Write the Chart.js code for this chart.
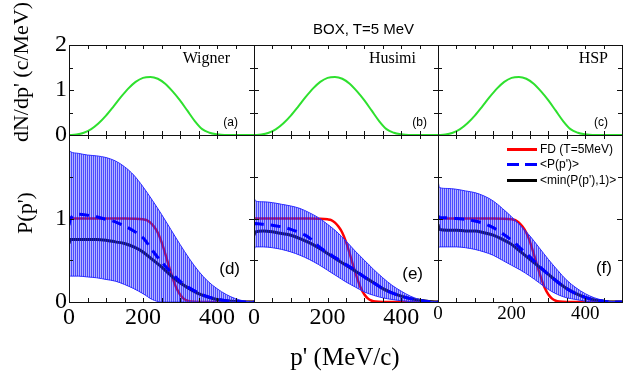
<!DOCTYPE html>
<html lang="en">
<head>
<meta charset="UTF-8">
<title>BOX, T=5 MeV</title>
<script src="https://cdn.jsdelivr.net/npm/chart.js"></script>
<style>
  body { margin: 0; background: #fff; }
  #wrap { position: relative; width: 624px; height: 372px; overflow: hidden; background: #fff; }
  #wrap canvas { position: absolute; }
  .t { position: absolute; white-space: nowrap; line-height: 1; color: #000; z-index: 5; }
  .serif { font-family: "Liberation Serif", "Times New Roman", serif; }
  .sans { font-family: "Liberation Sans", Arial, sans-serif; }
  .rot { transform: translate(-50%, -50%) rotate(-90deg); }
  .mid { transform: translate(-50%, -50%); }
  .ln { position: absolute; height: 3px; width: 30px; z-index: 5; }
</style>
</head>
<body>
<div id="wrap">
  <canvas id="a"></canvas><canvas id="b"></canvas><canvas id="c"></canvas>
  <canvas id="d"></canvas><canvas id="e"></canvas><canvas id="f"></canvas>

  <div class="t sans" style="left:313px; top:21px; font-size:15px;">BOX, T=5 MeV</div>
  <div class="t serif rot" style="left:21px; top:72px; font-size:22px;">dN/dp' (c/MeV)</div>
  <div class="t serif rot" style="left:25px; top:213px; font-size:22px;">P(p')</div>
  <div class="t serif mid" style="left:345px; top:356px; font-size:25px;">p' (MeV/c)</div>

  <div class="t serif" style="right:394px; top:50px; font-size:16px;">Wigner</div>
  <div class="t serif" style="right:208px; top:50px; font-size:16px;">Husimi</div>
  <div class="t serif" style="right:16px; top:50px; font-size:16px;">HSP</div>
  <div class="t sans" style="right:386px; top:116px; font-size:12px;">(a)</div>
  <div class="t sans" style="right:197px; top:116px; font-size:12px;">(b)</div>
  <div class="t sans" style="right:16px; top:116px; font-size:12px;">(c)</div>
  <div class="t sans" style="right:384px; top:260px; font-size:17px;">(d)</div>
  <div class="t sans" style="right:201px; top:265px; font-size:17px;">(e)</div>
  <div class="t sans" style="right:12px; top:259px; font-size:17px;">(f)</div>

  <div class="ln" style="left:507px; top:148px; background:#ff0000;"></div>
  <div class="t sans" style="left:540px; top:143px; font-size:12px;">FD (T=5MeV)</div>
  <div class="ln" style="left:507px; top:163px; background:repeating-linear-gradient(90deg,#0000ff 0 12px,transparent 12px 18px);"></div>
  <div class="t sans" style="left:540px; top:158px; font-size:12px;">&lt;P(p')&gt;</div>
  <div class="ln" style="left:507px; top:179px; background:#000;"></div>
  <div class="t sans" style="left:540px; top:174px; font-size:12px;">&lt;min(P(p'),1)&gt;</div>
</div>

<script>
// momentum grid for the P(p') panels (MeV/c)
const P_GRID = [0, 4, 25, 50, 75, 100, 125, 150, 175, 200, 225, 250, 275, 300, 325, 350, 375, 400, 425, 450, 475, 500];

// Wigner (d)
const WIGNER_UPPER = [1.82, 1.80, 1.78, 1.76, 1.75, 1.73, 1.69, 1.62, 1.52, 1.38, 1.22, 1.05, 0.87, 0.69, 0.52, 0.37, 0.25, 0.16, 0.09, 0.04, 0.01, 0];
const WIGNER_LOWER = [0.30, 0.31, 0.31, 0.30, 0.29, 0.27, 0.25, 0.21, 0.16, 0.10, 0.03, 0, 0, 0, 0, 0, 0, 0, 0, 0, 0, 0];
const WIGNER_MEAN  = [0.92, 1.00, 1.05, 1.04, 1.02, 0.99, 0.96, 0.91, 0.85, 0.77, 0.62, 0.48, 0.36, 0.25, 0.17, 0.11, 0.065, 0.035, 0.015, 0.005, 0, 0];
const WIGNER_MIN   = [0.70, 0.75, 0.75, 0.75, 0.75, 0.74, 0.72, 0.70, 0.66, 0.60, 0.51, 0.42, 0.32, 0.23, 0.16, 0.10, 0.06, 0.03, 0.015, 0.005, 0, 0];

// Husimi (e)
const HUSIMI_UPPER = [1.26, 1.21, 1.20, 1.19, 1.17, 1.15, 1.12, 1.07, 1.01, 0.93, 0.84, 0.73, 0.61, 0.50, 0.39, 0.29, 0.20, 0.13, 0.07, 0.03, 0.01, 0];
const HUSIMI_LOWER = [0.62, 0.66, 0.66, 0.65, 0.63, 0.60, 0.56, 0.51, 0.45, 0.38, 0.31, 0.24, 0.18, 0.12, 0.08, 0.05, 0.03, 0.015, 0.005, 0, 0, 0];
const HUSIMI_MEAN  = [0.93, 0.94, 0.93, 0.92, 0.90, 0.87, 0.83, 0.77, 0.67, 0.59, 0.52, 0.45, 0.38, 0.30, 0.23, 0.16, 0.11, 0.07, 0.04, 0.02, 0.005, 0];
const HUSIMI_MIN   = [0.80, 0.84, 0.85, 0.84, 0.82, 0.80, 0.76, 0.71, 0.65, 0.58, 0.51, 0.44, 0.37, 0.30, 0.23, 0.16, 0.11, 0.07, 0.04, 0.02, 0.005, 0];

// HSP (f)
const HSP_UPPER = [1.46, 1.37, 1.36, 1.35, 1.33, 1.31, 1.27, 1.21, 1.12, 1.02, 0.91, 0.79, 0.65, 0.51, 0.38, 0.26, 0.17, 0.10, 0.05, 0.02, 0.005, 0];
const HSP_LOWER = [0.64, 0.66, 0.66, 0.66, 0.65, 0.63, 0.60, 0.56, 0.50, 0.44, 0.38, 0.31, 0.23, 0.15, 0.09, 0.05, 0.03, 0.01, 0, 0, 0, 0];
const HSP_MEAN  = [1.03, 1.01, 1.01, 1.00, 0.99, 0.97, 0.94, 0.89, 0.82, 0.74, 0.64, 0.54, 0.43, 0.33, 0.24, 0.16, 0.10, 0.055, 0.025, 0.01, 0, 0];
const HSP_MIN   = [0.93, 0.87, 0.86, 0.86, 0.85, 0.85, 0.83, 0.80, 0.75, 0.69, 0.60, 0.51, 0.42, 0.33, 0.24, 0.16, 0.10, 0.055, 0.025, 0.01, 0, 0];

// Fermi-Dirac reference, same in every panel
const FD_P   = [0, 50, 100, 150, 180, 200, 210, 220, 230, 240, 250, 260, 270, 280, 290, 300, 310, 320, 330, 350, 400, 450, 500];
const FD_VAL = [1, 1, 1, 1, 0.998, 0.99, 0.98, 0.95, 0.90, 0.83, 0.72, 0.58, 0.43, 0.29, 0.17, 0.09, 0.04, 0.015, 0.005, 0, 0, 0, 0];

// dN/dp' (top row, same in each panel)
const DN_P   = [0, 20, 40, 60, 80, 100, 120, 140, 160, 180, 200, 220, 240, 260, 280, 300, 320, 340, 360, 380, 400, 420, 440, 460, 480, 500];
const DN_VAL = [0, 0.01, 0.05, 0.13, 0.26, 0.43, 0.63, 0.84, 1.03, 1.18, 1.27, 1.29, 1.25, 1.14, 0.97, 0.77, 0.54, 0.31, 0.13, 0.05, 0.015, 0, 0, 0, 0, 0];

const X_LABELS = [0, 200, 400];
const Y_LABELS_TOP = [0, 1, 2];
const Y_LABELS_BOTTOM = [0, 1];

// panel frame geometry
const M = 40;
const COLS = [[69, 185], [254, 184], [438, 184]];
const ROWS = [[45, 90], [135, 167]];

const pts = (xs, ys) => xs.map((x, i) => ({ x: x, y: ys[i] }));

function stripes() {
  const c = document.createElement('canvas');
  c.width = 2; c.height = 1;
  const g = c.getContext('2d');
  g.fillStyle = 'rgba(25,25,255,0.78)'; g.fillRect(0, 0, 1, 1);
  g.fillStyle = 'rgba(70,70,255,0.40)'; g.fillRect(1, 0, 1, 1);
  return g.createPattern(c, 'repeat');
}
const STRIPES = stripes();

// inward ticks on all four sides plus the frame
const frameTicks = {
  id: 'frameTicks',
  afterDatasetsDraw(chart) {
    const { ctx, chartArea: a, scales: { x, y } } = chart;
    ctx.save();
    ctx.strokeStyle = '#111';
    ctx.lineWidth = 1;
    ctx.beginPath();
    x.ticks.forEach(t => {
      const px = Math.round(x.getPixelForValue(t.value)) + 0.5;
      ctx.moveTo(px, a.bottom); ctx.lineTo(px, a.bottom - 4);
      ctx.moveTo(px, a.top); ctx.lineTo(px, a.top + 4);
    });
    y.ticks.forEach(t => {
      const py = Math.round(y.getPixelForValue(t.value)) + 0.5;
      const len = t.value % 1 === 0 ? 5 : 4;
      ctx.moveTo(a.left, py); ctx.lineTo(a.left + len, py);
      ctx.moveTo(a.right, py); ctx.lineTo(a.right - len, py);
    });
    ctx.stroke();
    ctx.strokeRect(a.left + 0.5, a.top + 0.5, a.right - a.left, a.bottom - a.top);
    ctx.restore();
  }
};

function makePanel(id, col, row, datasets, yLabels, xLabels, xFont) {
  const [l, w] = COLS[col];
  const [t, h] = ROWS[row];
  const cv = document.getElementById(id);
  cv.width = w + 2 * M; cv.height = h + 2 * M;
  cv.style.left = (l - M) + 'px'; cv.style.top = (t - M) + 'px';
  return new Chart(cv, {
    type: 'line',
    data: { datasets: datasets },
    options: {
      responsive: false,
      animation: false,
      events: [],
      layout: { padding: { top: M, right: M, left: 0, bottom: 0 } },
      elements: { point: { radius: 0 }, line: { cubicInterpolationMode: 'monotone' } },
      plugins: { legend: { display: false }, tooltip: { enabled: false } },
      scales: {
        x: {
          type: 'linear', min: 0, max: 500,
          grid: { display: false, drawTicks: false },
          border: { display: false },
          ticks: {
            stepSize: 50, autoSkip: false, maxRotation: 0, padding: 1, color: '#000',
            font: { family: 'Liberation Serif', size: xFont },
            callback: v => xLabels.includes(v) ? String(v) : ''
          },
          afterFit: s => { s.height = M; }
        },
        y: {
          min: 0, max: 2,
          grid: { display: false, drawTicks: false },
          border: { display: false },
          ticks: {
            stepSize: 0.5, autoSkip: false, padding: 2, color: '#000',
            font: { family: 'Liberation Serif', size: 24 },
            callback: v => yLabels.includes(v) ? String(v) : ''
          },
          afterFit: s => { s.width = M; }
        }
      }
    },
    plugins: [frameTicks]
  });
}

function topSets() {
  return [{ data: pts(DN_P, DN_VAL), borderColor: '#2ee02e', borderWidth: 2, fill: false }];
}

function bottomSets(upper, lower, mean, minv) {
  return [
    { data: pts(P_GRID, mean), borderColor: '#0000ff', borderWidth: 3, borderDash: [10, 7], fill: false, order: 0 },
    { data: pts(P_GRID, upper), borderColor: '#2b2bff', borderWidth: 1, backgroundColor: STRIPES, fill: '+1', order: 1 },
    { data: pts(P_GRID, lower), borderColor: '#2b2bff', borderWidth: 1, fill: false, order: 1 },
    { data: pts(P_GRID, minv), borderColor: '#000000', borderWidth: 3, fill: false, order: 2 },
    { data: pts(FD_P, FD_VAL), borderColor: '#ff0000', borderWidth: 2.5, fill: false, order: 3 }
  ];
}

makePanel('a', 0, 0, topSets(), Y_LABELS_TOP, [], 24);
makePanel('b', 1, 0, topSets(), [], [], 24);
makePanel('c', 2, 0, topSets(), [], [], 19);
makePanel('d', 0, 1, bottomSets(WIGNER_UPPER, WIGNER_LOWER, WIGNER_MEAN, WIGNER_MIN), Y_LABELS_BOTTOM, X_LABELS, 24);
makePanel('e', 1, 1, bottomSets(HUSIMI_UPPER, HUSIMI_LOWER, HUSIMI_MEAN, HUSIMI_MIN), [], X_LABELS, 24);
makePanel('f', 2, 1, bottomSets(HSP_UPPER, HSP_LOWER, HSP_MEAN, HSP_MIN), [], X_LABELS, 19);
</script>
</body>
</html>
